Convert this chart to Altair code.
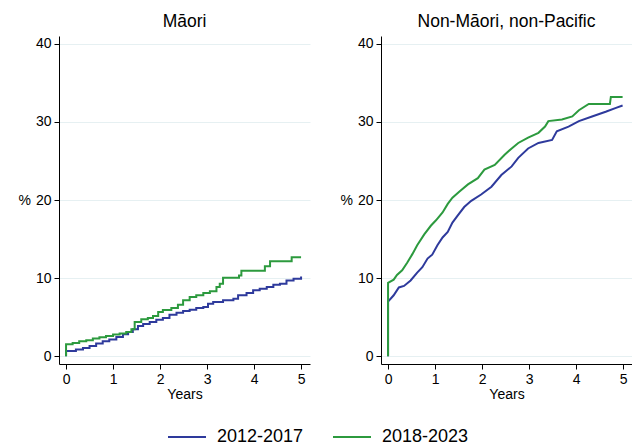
import altair as alt
import pandas as pd

# ---- data ----
series_names = ["2012-2017", "2018-2023"]
panel_names = ["Māori", "Non-Māori, non-Pacific"]

maori_x_1217 = [0, 0, 0.21, 0.36, 0.50, 0.64, 0.78, 0.92, 1.07, 1.21, 1.32, 1.42, 1.53, 1.64, 1.78, 1.92,
                2.06, 2.20, 2.35, 2.49, 2.63, 2.77, 2.92, 3.02, 3.13, 3.34, 3.56, 3.66, 3.84, 3.98,
                4.12, 4.27, 4.41, 4.55, 4.69, 4.84, 5.0]
maori_y_1217 = [0, 0.68, 0.85, 1.06, 1.32, 1.62, 1.91, 2.13, 2.47, 2.81, 3.11, 3.45, 3.87, 4.13, 4.38, 4.68,
                4.89, 5.32, 5.57, 5.79, 5.96, 6.17, 6.30, 6.72, 6.94, 7.15, 7.36, 7.79, 8.09, 8.43,
                8.64, 8.85, 9.15, 9.28, 9.70, 9.91, 10.21]

maori_x_1823 = [0, 0, 0.14, 0.28, 0.43, 0.57, 0.71, 0.85, 1.0, 1.14, 1.28, 1.39, 1.46, 1.60, 1.74, 1.85,
                1.96, 2.06, 2.24, 2.38, 2.49, 2.63, 2.77, 2.92, 3.06, 3.20, 3.27, 3.34, 3.68, 3.73,
                4.16, 4.23, 4.34, 4.80, 5.0]
maori_y_1823 = [0, 1.53, 1.70, 1.91, 2.04, 2.26, 2.43, 2.60, 2.77, 2.89, 3.11, 3.45, 4.38, 4.72, 4.89, 5.15,
                5.66, 5.91, 6.17, 6.60, 7.15, 7.57, 7.79, 8.09, 8.30, 8.85, 9.28, 10.04, 10.34, 10.94,
                10.94, 11.53, 12.17, 12.68, 12.68]

other_x_1217 = [0, 0, 0.12, 0.23, 0.34, 0.48, 0.62, 0.73, 0.84, 0.94, 1.05, 1.16, 1.27, 1.37, 1.48, 1.62,
                1.77, 1.98, 2.20, 2.41, 2.63, 2.77, 2.98, 3.20, 3.49, 3.59, 3.84, 4.06, 4.34, 4.63,
                4.85, 4.99]
other_y_1217 = [0, 7.0, 7.8, 8.8, 9.0, 9.7, 10.7, 11.4, 12.5, 13.0, 14.2, 15.2, 15.9, 17.1, 18.0, 19.1,
                19.9, 20.7, 21.7, 23.2, 24.3, 25.4, 26.6, 27.3, 27.7, 28.8, 29.4, 30.1, 30.7, 31.3,
                31.8, 32.1]

other_x_1823 = [0, 0, 0.12, 0.19, 0.30, 0.41, 0.52, 0.62, 0.77, 0.91, 1.02, 1.16, 1.27, 1.37, 1.52, 1.70,
                1.91, 2.05, 2.27, 2.48, 2.63, 2.77, 2.98, 3.20, 3.34, 3.41, 3.70, 3.92, 4.06, 4.27,
                4.63, 4.72, 4.74, 4.99]
other_y_1823 = [0, 9.4, 9.8, 10.4, 11.0, 12.0, 13.1, 14.2, 15.6, 16.7, 17.4, 18.4, 19.5, 20.3, 21.1, 22.0,
                22.8, 23.9, 24.5, 25.8, 26.6, 27.3, 28.0, 28.6, 29.4, 30.1, 30.3, 30.7, 31.5, 32.3,
                32.3, 32.3, 33.2, 33.2]

x_ticks = [0, 1, 2, 3, 4, 5]
y_ticks = [0, 10, 20, 30, 40]

BLUE = "#2E3A9C"
GREEN = "#2C9A3E"
FONT = "Liberation Sans"


def frame(xs, ys, series, panel):
    return pd.DataFrame({"Years": xs, "pct": ys, "series": series, "panel": panel,
                         "order": list(range(len(xs)))})


df_maori = pd.concat([frame(maori_x_1217, maori_y_1217, series_names[0], panel_names[0]),
                      frame(maori_x_1823, maori_y_1823, series_names[1], panel_names[0])])
df_other = pd.concat([frame(other_x_1217, other_y_1217, series_names[0], panel_names[1]),
                      frame(other_x_1823, other_y_1823, series_names[1], panel_names[1])])
df_legend = pd.DataFrame({"series": series_names})

PANEL_W = 251
PANEL_H = 328

color_scale = alt.Scale(domain=series_names, range=[BLUE, GREEN])


def panel(df, title, interp):
    return alt.Chart(df).mark_line(interpolate=interp, strokeWidth=2).encode(
        x=alt.X("Years:Q",
                scale=alt.Scale(domain=[-0.15, 5.19], nice=False, zero=False),
                axis=alt.Axis(values=x_ticks, title="Years", grid=False,
                              format="d", titlePadding=1)),
        y=alt.Y("pct:Q",
                scale=alt.Scale(domain=[-1.0, 41.0], nice=False, zero=False),
                axis=alt.Axis(values=y_ticks, title="%", titleAngle=0,
                              titleBaseline="middle", titleAlign="right",
                              titlePadding=5, grid=True)),
        color=alt.Color("series:N", scale=color_scale, legend=None),
        order="order:Q",
    ).properties(
        width=PANEL_W, height=PANEL_H,
        title=alt.TitleParams(title, fontSize=17.5, font=FONT, fontWeight="normal",
                              color="#000000", offset=6),
    )


# legend row (key line + label for each series)
legend_x = alt.X("series:N",
                 scale=alt.Scale(domain=series_names, range=[128, 293], padding=0),
                 axis=None)
legend_base = alt.Chart(df_legend).encode(x=legend_x, y=alt.value(8))
legend_keys = legend_base.mark_point(shape="stroke", size=1444, strokeWidth=2, filled=False,
                                     opacity=1).encode(
    color=alt.Color("series:N", scale=color_scale, legend=None))
legend_labels = legend_base.mark_text(align="left", baseline="middle", dx=30, fontSize=18,
                                      font=FONT, color="#000000").encode(text="series:N")
legend_row = alt.layer(legend_keys, legend_labels).properties(width=400, height=16)

panels = alt.hconcat(
    panel(df_maori, panel_names[0], "step-after"),
    panel(df_other, panel_names[1], "linear"),
    spacing=29,
)

chart = alt.vconcat(panels, legend_row, spacing=27).properties(
    padding={"left": 17, "top": 12, "right": 0, "bottom": 0},
    background="white",
).configure_view(
    stroke=None,
).configure_axis(
    labelFont=FONT, titleFont=FONT, labelFontSize=14, titleFontSize=14,
    titleFontWeight="normal", labelColor="#000000", titleColor="#000000",
    domainColor="#000000", tickColor="#000000", domainWidth=1, tickWidth=1,
    tickSize=5, labelPadding=3, gridColor="#E6F0F2", gridWidth=1,
)

chart.save("out.html", embed_options={"renderer": "svg", "actions": False})
